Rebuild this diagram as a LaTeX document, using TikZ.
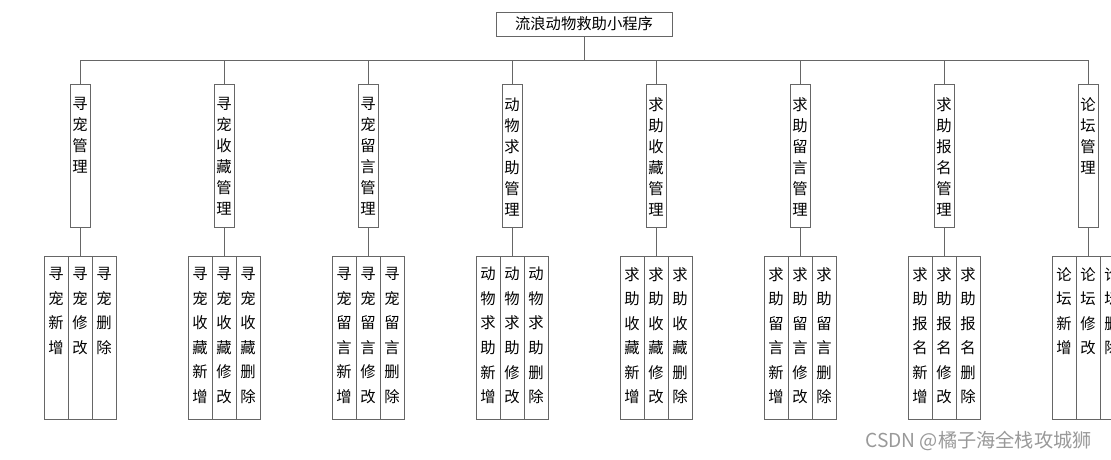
\documentclass[tikz,border=0pt]{standalone}
\usepackage{fontspec}
\setmainfont{Noto Sans CJK SC}
\newfontfamily\cjk{Noto Sans CJK SC}

% one character per line
\newcommand\vtxt[1]{\edef\vtmp{#1}\expandafter\vtxtA\vtmp\endv}
\def\vtxtA#1#2\endv{#1\ifx\relax#2\relax\else\\\vtxtA#2\endv\fi}

\begin{document}
\begin{tikzpicture}[x=0.75pt, y=-0.75pt, font=\cjk\fontsize{11.5}{15.75}\selectfont,
    line/.style={draw=black!60, line width=0.6pt},
    rootbox/.style={line, minimum width=132pt, minimum height=18pt, inner sep=0pt},
    modbox/.style={line, minimum width=15pt, minimum height=107.25pt, anchor=north, inner sep=0pt},
    subbox/.style={line, minimum width=18pt, minimum height=122.25pt, anchor=north, inner sep=0pt},
    modtext/.style={anchor=north, align=center, inner sep=0pt, font=\cjk\fontsize{11.5}{15.75}\selectfont},
    subtext/.style={anchor=north, align=center, inner sep=0pt, font=\cjk\fontsize{11.5}{18.4}\selectfont}]
    \clip (0,0) rectangle (1111,460);

    % Root
    \node[rootbox] (root) at (584,24) {流浪动物救助小程序};
    \coordinate (bus) at (584,60);
    \draw[line] (root) -- (bus);

    % Modules and their operations
    \foreach \i/\m/\p in {1/寻宠管理/寻宠, 2/寻宠收藏管理/寻宠收藏, 3/寻宠留言管理/寻宠留言,
                          4/动物求助管理/动物求助, 5/求助收藏管理/求助收藏, 6/求助留言管理/求助留言,
                          7/求助报名管理/求助报名, 8/论坛管理/论坛} {
        \node[modbox] (m\i) at ({80+144*(\i-1)},84) {};
        \node[modtext] at ([yshift=-10pt]m\i.north) {\vtxt{\m}};
        \draw[line] (m\i) -- (m\i |- bus);
        \foreach \j/\op in {1/新增, 2/修改, 3/删除} {
            \node[subbox] (s\i-\j) at ({80+144*(\i-1)+24*(\j-2)},256) {};
            \node[subtext] at ([yshift=-8.25pt]s\i-\j.north) {\vtxt{\p\op}};
        }
        \draw[line] (m\i) -- (s\i-2);
    }
    \draw[line] (m1 |- bus) -- (m8 |- bus);

    % Watermark
    \node[anchor=east, inner sep=0pt, text=black!40, font=\cjk\fontsize{14.4}{14.4}\selectfont] (mark) at (1092,441) {CSDN @橘子海全栈攻城狮};
\end{tikzpicture}
\end{document}
